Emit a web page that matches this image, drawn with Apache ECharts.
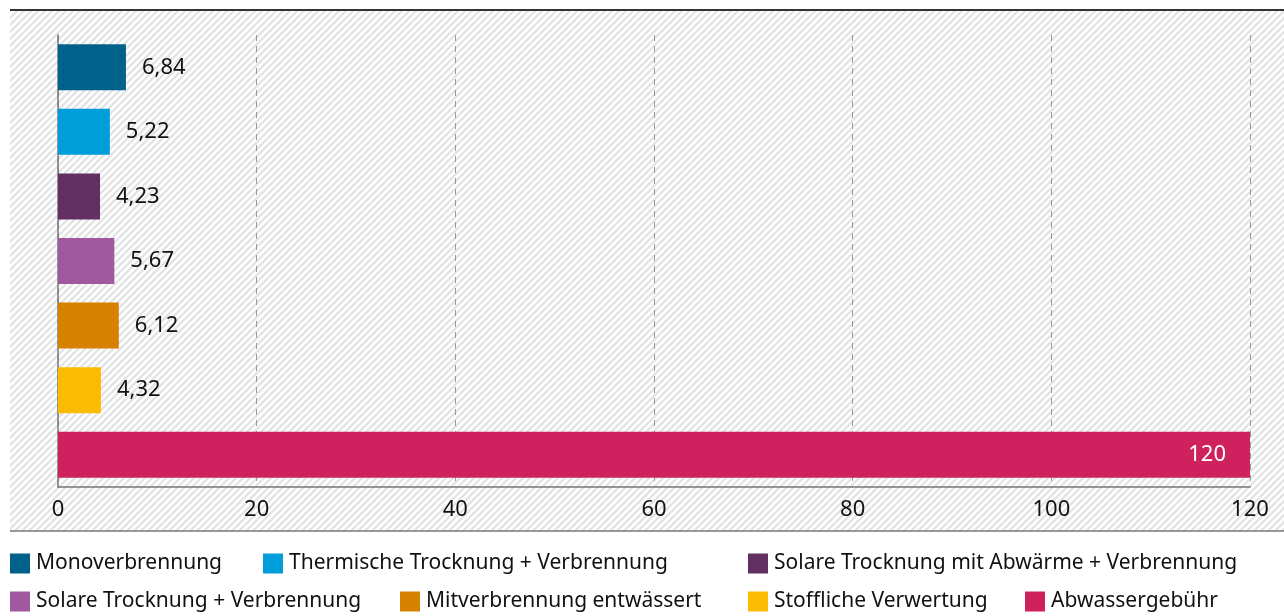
<!DOCTYPE html>
<html>
<head>
<meta charset="utf-8">
<script src="https://cdn.jsdelivr.net/npm/echarts@6/dist/echarts.min.js"></script>
<style>
  html, body { margin: 0; padding: 0; background: #fff; }
  #chart { width: 1284px; height: 616px; }
</style>
</head>
<body>
<div id="chart"></div>
<script>
  // Kosten je Verfahren
  var categories = [
    'Monoverbrennung',
    'Thermische Trocknung + Verbrennung',
    'Solare Trocknung mit Abwärme + Verbrennung',
    'Solare Trocknung + Verbrennung',
    'Mitverbrennung entwässert',
    'Stoffliche Verwertung',
    'Abwassergebühr'
  ]
  var values = [6.84, 5.22, 4.23, 5.67, 6.12, 4.32, 120]
  var colors = ['#00628a', '#009ddb', '#612f62', '#a0589e', '#d68100', '#fbbb00', '#cf215e']
  var xTicks = [0, 20, 40, 60, 80, 100, 120]

  // legend positions [left, top]
  var legendPos = [[10, 553], [263, 553], [748, 553], [10, 591], [400, 591], [748, 591], [1025, 591]]

  function hatch () {
    var c = document.createElement('canvas')
    c.width = 7
    c.height = 7
    var ctx = c.getContext('2d')
    ctx.fillStyle = '#ffffff'
    ctx.fillRect(0, 0, 7, 7)
    ctx.strokeStyle = '#e2e4e6'
    ctx.lineWidth = 2.4
    ctx.beginPath()
    ctx.moveTo(-2, 9); ctx.lineTo(9, -2)
    ctx.moveTo(-9, 9); ctx.lineTo(2, -2)
    ctx.moveTo(5, 9); ctx.lineTo(16, -2)
    ctx.stroke()
    return c
  }

  var font = '"Noto Sans", sans-serif'
  var series = categories.map(function (name, i) {
    var d = categories.map(function (c, j) { return j === i ? values[i] : '-' })
    var last = i === categories.length - 1
    return {
      name: name,
      type: 'bar',
      stack: 'all',
      barWidth: 46,
      data: d,
      itemStyle: { color: colors[i] },
      label: {
        show: true,
        position: last ? 'insideRight' : 'right',
        distance: last ? 24 : 16,
        color: last ? '#fff' : '#111',
        fontFamily: font,
        fontSize: 22,
        formatter: function (p) { return String(p.value).replace('.', ',') }
      },
      animation: false
    }
  })

  var legends = categories.map(function (name, i) {
    return {
      data: [name],
      left: legendPos[i][0],
      top: legendPos[i][1],
      padding: 0,
      icon: 'rect',
      itemWidth: 20,
      itemHeight: 20,
      itemGap: 0,
      selectedMode: false,
      textStyle: { fontFamily: font, fontSize: 21, color: '#111', padding: [0, 0, 0, 1] }
    }
  })

  var chart = echarts.init(document.getElementById('chart'))
  chart.setOption({
    backgroundColor: '#fff',
    graphic: [
      {
        type: 'rect', z: -10, silent: true,
        shape: { x: 10, y: 10, width: 1274, height: 521 },
        style: { fill: { image: hatch(), repeat: 'repeat' } }
      },
      {
        type: 'line', z: -5, silent: true,
        shape: { x1: 10, y1: 10, x2: 1284, y2: 10 },
        style: { stroke: '#333', lineWidth: 2 }
      },
      {
        type: 'line', z: -5, silent: true,
        shape: { x1: 10, y1: 531, x2: 1284, y2: 531 },
        style: { stroke: '#777', lineWidth: 1.5 }
      }
    ],
    legend: legends,
    grid: { left: 58, right: 34, top: 35, bottom: 129, containLabel: false },
    xAxis: {
      type: 'value',
      min: 0,
      max: 120,
      interval: 20,
      axisLine: { show: true, lineStyle: { color: '#777', width: 1.5 } },
      axisTick: { show: false },
      axisLabel: {
        margin: 12,
        color: '#111',
        fontFamily: font,
        fontSize: 22,
        formatter: function (v) { return xTicks.indexOf(v) >= 0 ? String(v) : '' }
      },
      splitLine: { show: true, lineStyle: { color: '#999', type: [6, 5], width: 1 } }
    },
    yAxis: {
      type: 'category',
      data: categories,
      inverse: true,
      axisLine: { show: true, lineStyle: { color: '#777', width: 1.5 } },
      axisTick: { show: false },
      axisLabel: { show: false }
    },
    series: series
  })
</script>
</body>
</html>
